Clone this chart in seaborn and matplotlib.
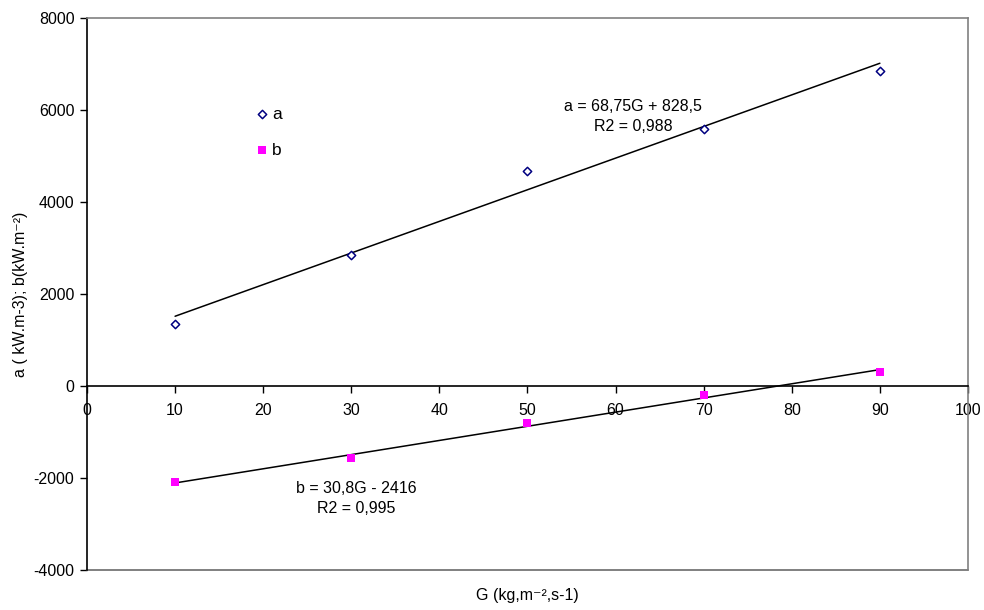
import numpy as np
import pandas as pd
import matplotlib
matplotlib.use("Agg")
import matplotlib.pyplot as plt
import seaborn as sns

# Measured values
G = [10, 30, 50, 70, 90]
a_vals = [1350, 2850, 4680, 5590, 6850]
b_vals = [-2090, -1565, -804, -196, 304]

# Linear trend coefficients (slope, intercept)
a_fit = [68.75, 828.5]
b_fit = [30.8, -2416]
a_label = "a = 68,75G + 828,5\nR2 = 0,988"
b_label = "b = 30,8G - 2416\nR2 = 0,995"

x_ticks = [0, 10, 20, 30, 40, 50, 60, 70, 80, 90, 100]
y_ticks = [-4000, -2000, 0, 2000, 4000, 6000, 8000]

sns.set_style("white")
plt.rcParams["font.family"] = ["Liberation Sans", "DejaVu Sans"]
plt.rcParams["font.size"] = 11.5
plt.rcParams["axes.unicode_minus"] = False
plt.rcParams["text.color"] = "black"
plt.rcParams["axes.labelcolor"] = "black"
plt.rcParams["xtick.color"] = "black"
plt.rcParams["ytick.color"] = "black"

df = pd.DataFrame({"G": G * 2,
                   "val": a_vals + b_vals,
                   "serie": ["a"] * len(G) + ["b"] * len(G)})

fig = plt.figure(figsize=(9.84, 6.10), dpi=100)
ax = fig.add_axes([0.0884, 0.0656, 0.8953, 0.9049])

sns.scatterplot(data=df[df.serie == "a"], x="G", y="val", ax=ax,
                marker="D", s=18, facecolor="white", edgecolor="#000080",
                linewidth=1.1, label="a", zorder=3)
sns.scatterplot(data=df[df.serie == "b"], x="G", y="val", ax=ax,
                marker="s", s=38, color="#FF00FF", edgecolor="#FF00FF",
                linewidth=0, label="b", zorder=3)

# Trend lines over the measured range
xs = np.array([min(G), max(G)])
ax.plot(xs, a_fit[0] * xs + a_fit[1], color="black", lw=1.1, zorder=2)
ax.plot(xs, b_fit[0] * xs + b_fit[1], color="black", lw=1.1, zorder=2)

ax.text(62, 5850, a_label, ha="center", va="center", fontsize=11.5, linespacing=1.4)
ax.text(30.6, -2440, b_label, ha="center", va="center", fontsize=11.5, linespacing=1.4)

ax.set_xlim(0, 100)
ax.set_ylim(-4000, 8000)
ax.set_xticks(x_ticks)
ax.set_yticks(y_ticks)

# x axis drawn through zero, plot box in grey
ax.spines["bottom"].set_position(("data", 0))
ax.spines["bottom"].set_color("black")
ax.spines["left"].set_color("black")
for s in ("bottom", "left"):
    ax.spines[s].set_linewidth(1.2)
for s in ("top", "right"):
    ax.spines[s].set_color("#808080")
    ax.spines[s].set_linewidth(1.2)
ax.axhline(-4000, color="#808080", lw=1.4, clip_on=False, zorder=1)

ax.tick_params(axis="x", direction="out", length=5, width=1, color="black",
               pad=7, labelsize=11.5, bottom=True)
ax.tick_params(axis="y", direction="out", length=5, width=1, color="black",
               pad=4, labelsize=11.5, left=True)

ax.set_xlabel("")
ax.set_ylabel("a ( kW.m-3); b(kW.m\u207b\u00b2)", fontsize=11.5, labelpad=4)
fig.text(0.5355, 0.024, "G (kg,m\u207b\u00b2,s-1)", ha="center", va="center", fontsize=11.5)

leg = ax.legend(loc="upper left", bbox_to_anchor=(0.171, 0.868), frameon=False,
                handletextpad=0.1, labelspacing=1.2, fontsize=12.5,
                handlelength=1.0, markerscale=1.0)

fig.savefig("out.png", dpi=100)
